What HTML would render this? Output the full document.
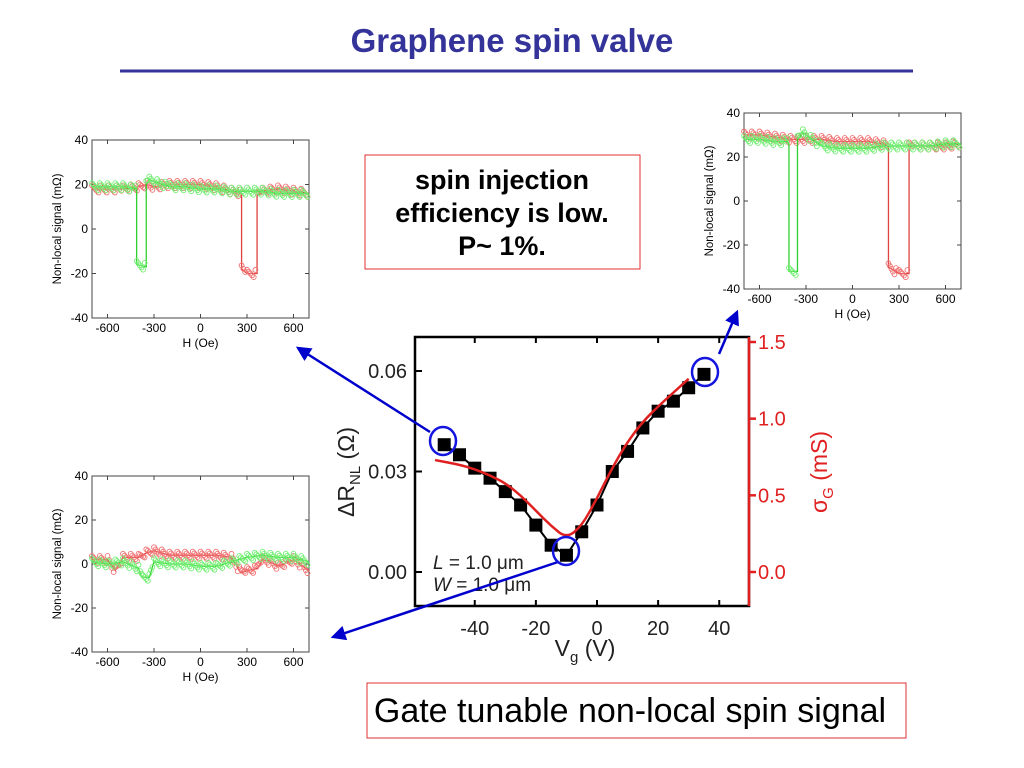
<!DOCTYPE html>
<html><head><meta charset="utf-8"><style>
body{margin:0;background:#fff;width:1024px;height:768px;overflow:hidden;font-family:"Liberation Sans",sans-serif;}
svg{position:absolute;left:0;top:0}
</style></head><body>
<svg width="1024" height="768" viewBox="0 0 1024 768" id="s">
<text x="512" y="52" text-anchor="middle" font-family="Liberation Sans" font-weight="bold" font-size="33" fill="#333399">Graphene spin valve</text>
<line x1="120" y1="71" x2="913" y2="71" stroke="#333399" stroke-width="3"/>
<g>
<rect x="365" y="155" width="275" height="114" fill="#fff" stroke="#e03030" stroke-width="1"/>
<text font-family="Liberation Sans" font-weight="bold" font-size="27" text-anchor="middle" fill="#000"><tspan x="502" y="189">spin injection</tspan><tspan x="502" y="222">efficiency is low.</tspan><tspan x="502" y="255">P~ 1%.</tspan></text>
</g>
<g>
<rect x="367" y="683" width="539" height="55" fill="#fff" stroke="#e03030" stroke-width="1"/>
<text x="630" y="722" text-anchor="middle" font-family="Liberation Sans" font-size="34" fill="#000">Gate tunable non-local spin signal</text>
</g>
<g id="panels"></g>
<g id="main"></g>
<g id="ann"></g>
</svg>
<script>
// ---- main chart data ----
const vg = [-50,-45,-40,-35,-30,-25,-20,-15,-10,-5,0,5,10,15,20,25,30,35];
const dR = [0.038,0.035,0.031,0.028,0.024,0.020,0.014,0.008,0.005,0.012,0.020,0.030,0.036,0.043,0.048,0.051,0.055,0.059];
const vgSigma = [-53,-45,-40,-35,-30,-25,-20,-15,-10,-5,0,5,10,15,20,25,30];
const sigma = [0.73,0.70,0.67,0.63,0.58,0.50,0.40,0.30,0.22,0.30,0.48,0.68,0.85,0.98,1.08,1.17,1.26];
const xTicks = [-40,-20,0,20,40];
const yTicks = [0.00,0.03,0.06];
const yTickLabels = ["0.00","0.03","0.06"];
const rTicks = [0.0,0.5,1.0,1.5];
const rTickLabels = ["0.0","0.5","1.0","1.5"];
// ---- loop panel data ----
const p1gH=[-700,-600,-500,-420,-412,-412,-350,-350,-330,-200,-100,0,100,200,300,400,500,600,700];
const p1gV=[19,19,19,18,18,-16,-17,20,22,19,19,18,18,17,17,17,16,16,16];
const p1rH=[-700,-500,-400,-350,-300,-200,-100,0,100,200,265,265,300,365,365,400,500,600,700];
const p1rV=[18,18,19,20,19,20,20,20,19,17,16,-18,-20,-20,15,17,18,17,16];
const p2gH=[-700,-600,-500,-420,-410,-410,-355,-355,-320,-200,-100,0,100,200,300,400,500,600,700];
const p2gV=[28,28,27,27,26,-32,-32,28,31,25,24,24,24,25,25,25,25,26,26];
const p2rH=[-700,-600,-500,-400,-300,-200,-100,0,100,200,232,232,300,365,365,400,500,600,700];
const p2rV=[30,30,29,28,28,28,27,27,27,26,25,-30,-33,-33,25,25,25,25,26];
const p3gH=[-700,-600,-500,-400,-380,-330,-300,-200,-100,0,100,200,300,400,500,600,700];
const p3gV=[1,0,1,-2,-6,-6,1,0,0,-1,-1,1,3,4,3,3,1];
const p3rH=[-700,-600,-550,-500,-400,-350,-300,-200,-100,0,100,200,260,300,370,400,450,500,600,700];
const p3rV=[2,2,-3,3,3,5,6,4,4,4,4,3,-4,-3,-2,2,1,-1,2,-3];
const hTicks=[-600,-300,0,300,600];
const sTicks=[-40,-20,0,20,40];

const NS="http://www.w3.org/2000/svg";
function mk(tag,attrs,parent){const e=document.createElementNS(NS,tag);for(const k in attrs)e.setAttribute(k,attrs[k]);parent.appendChild(e);return e;}

function panel(id,x0,x1,y0,y1,gH,gV,rH,rV){
  const g=mk('g',{},document.getElementById('panels'));
  
  
  const sx=h=>x0+(h+700)/1400*(x1-x0);
  const sy=v=>y1-(v+40)/80*(y1-y0);
  const fr=mk('rect',{x:x0,y:y0,width:x1-x0,height:y1-y0,fill:'none',stroke:'#444','stroke-width':1},g);
  
  
  hTicks.forEach(t=>{
    mk('line',{x1:sx(t),x2:sx(t),y1:y1,y2:y1-4,stroke:'#444'},g);
    mk('line',{x1:sx(t),x2:sx(t),y1:y0,y2:y0+4,stroke:'#444'},g);
    const tx=mk('text',{x:sx(t),y:y1+14,'text-anchor':'middle','font-size':12,fill:'#000'},g);
    tx.textContent=t;
    
    
  });
  sTicks.forEach(t=>{
    mk('line',{x1:x0,x2:x0+4,y1:sy(t),y2:sy(t),stroke:'#444'},g);
    mk('line',{x1:x1,x2:x1-4,y1:sy(t),y2:sy(t),stroke:'#444'},g);
    const tx=mk('text',{x:x0-4,y:sy(t)+4,'text-anchor':'end','font-size':12,fill:'#000'},g);
    tx.textContent=t;
    
    
  });
  const xl=mk('text',{x:(x0+x1)/2,y:y1+29,'text-anchor':'middle','font-size':12,fill:'#000'},g);
  xl.textContent='H (Oe)';
  
  
  const yl=mk('text',{x:0,y:0,'text-anchor':'middle','font-size':11.5,fill:'#000',transform:`translate(${x0-31},${(y0+y1)/2}) rotate(-90)`},g);
  yl.textContent='Non-local signal (mΩ)';
  
  
  [[rH,rV,'#e04040','#f07070','red-sweep'],[gH,gV,'#30d030','#70ee70','green-sweep']].forEach(([H,V,lc,mc,nm])=>{
    const s=mk('g',{},g);
    
    
    mk('polyline',{points:H.map((h,i)=>sx(h)+','+sy(V[i])).join(' '),fill:'none',stroke:lc,'stroke-width':1.3},s);
    for(let i=0;i<H.length-1;i++){
      const ax=sx(H[i]),ay=sy(V[i]),bx=sx(H[i+1]),by=sy(V[i+1]);
      if(Math.abs(bx-ax)<1)continue;
      const n=Math.max(1,Math.round(Math.abs(bx-ax)/1.6));
      for(let k=0;k<n;k++){
        const f=k/n;const off=((k%5)-2)*1.8;
        mk('circle',{cx:ax+(bx-ax)*f,cy:ay+(by-ay)*f+off,r:2.4,fill:'none',stroke:mc,'stroke-width':0.9},s);
      }
    }
  });
}
panel('loop-panel-top-left',92,309,140,318,p1gH,p1gV,p1rH,p1rV);
panel('loop-panel-top-right',744,961,113,289,p2gH,p2gV,p2rH,p2rV);
panel('loop-panel-bottom-left',92,309,476,652,p3gH,p3gV,p3rH,p3rV);

// main chart
(function(){
  const m=document.getElementById('main');
  
  
  const L=415,R=749,T=337,B=606;
  const sx=v=>597+v*3.056;
  const sy=d=>572-d/0.06*201;
  const sr=s=>572-s/1.5*230;
  mk('rect',{x:L,y:T,width:R-L,height:B-T,fill:'none',stroke:'#000','stroke-width':2.5},m);
  mk('line',{x1:R,x2:R,y1:T,y2:B,stroke:'#e02020','stroke-width':2.5},m);
  xTicks.forEach(t=>{
    mk('line',{x1:sx(t),x2:sx(t),y1:B,y2:B-6,stroke:'#000','stroke-width':2},m);
    mk('line',{x1:sx(t),x2:sx(t),y1:T,y2:T+6,stroke:'#000','stroke-width':2},m);
    const tx=mk('text',{x:sx(t),y:B+29,'text-anchor':'middle','font-size':20,fill:'#222'},m);
    tx.textContent=t;
    
    
  });
  yTicks.forEach((t,i)=>{
    mk('line',{x1:L,x2:L+7,y1:sy(t),y2:sy(t),stroke:'#000','stroke-width':2},m);
    const tx=mk('text',{x:L-8,y:sy(t)+7,'text-anchor':'end','font-size':20,fill:'#222'},m);
    tx.textContent=yTickLabels[i];
    
    
  });
  rTicks.forEach((t,i)=>{
    mk('line',{x1:R,x2:R+7,y1:sr(t),y2:sr(t),stroke:'#e02020','stroke-width':2.5},m);
    const tx=mk('text',{x:R+9,y:sr(t)+7,'font-size':20,fill:'#e02020'},m);
    tx.textContent=rTickLabels[i];
    
    
  });
  const line=mk('polyline',{points:vg.map((v,i)=>sx(v)+','+sy(dR[i])).join(' '),fill:'none',stroke:'#000','stroke-width':2},m);
  
  
  vg.forEach((v,i)=>{
    const r=mk('rect',{x:sx(v)-6.5,y:sy(dR[i])-6.5,width:13,height:13,fill:'#000'},m);
    
    
  });
  let d='';vgSigma.forEach((v,i)=>{const px=sx(v),py=sr(sigma[i]);if(i==0)d+=`M${px},${py}`;else{const p0=sx(vgSigma[i-1]),q0=sr(sigma[i-1]);d+=` Q${p0},${q0} ${(p0+px)/2},${(q0+py)/2}`;}});
  d+=` L${sx(vgSigma[vgSigma.length-1])},${sr(sigma[sigma.length-1])}`;
  const rc=mk('path',{d:d,fill:'none',stroke:'#e02020','stroke-width':2.5},m);
  
  
  const xt=mk('text',{x:585,y:656,'text-anchor':'middle','font-size':23,fill:'#222'},m);
  xt.innerHTML='V<tspan font-size="15" dy="6">g</tspan><tspan dy="-6"> (V)</tspan>';
  
  
  const yt=mk('text',{x:0,y:0,'text-anchor':'middle','font-size':23,fill:'#222',transform:'translate(354,472) rotate(-90)'},m);
  yt.innerHTML='ΔR<tspan font-size="15" dy="6">NL</tspan><tspan dy="-6"> (Ω)</tspan>';
  
  
  const rt=mk('text',{x:0,y:0,'text-anchor':'middle','font-size':23,fill:'#e02020',transform:'translate(827,472) rotate(-90)'},m);
  rt.innerHTML='σ<tspan font-size="15" dy="6">G</tspan><tspan dy="-6"> (mS)</tspan>';
  
  
  const lt=mk('text',{x:433,y:569,'font-size':19,fill:'#222'},m);
  lt.innerHTML='<tspan font-style="italic">L</tspan> = 1.0 μm';
  
  
  const wt=mk('text',{x:433,y:591,'font-size':19,fill:'#222'},m);
  wt.innerHTML='<tspan font-style="italic">W</tspan> = 1.0 μm';
  
  
})();

// annotations
(function(){
  const a=document.getElementById('ann');
  const defs=mk('defs',{},a);
  const mkr=mk('marker',{id:'ah',markerWidth:6,markerHeight:6,refX:5,refY:3,orient:'auto',markerUnits:'strokeWidth'},defs);
  mk('path',{d:'M0,0 L6,3 L0,6 z',fill:'#0000cc'},mkr);
  [[430,432,298,348,'arrow-to-top-left'],[558,562,333,637,'arrow-to-bottom-left'],[719,354,737,312,'arrow-to-top-right']].forEach(([x1,y1,x2,y2,n])=>{
    const l=mk('line',{x1,y1,x2,y2,stroke:'#0000cc','stroke-width':2.5,'marker-end':'url(#ah)'},a);
    
    
  });
  [[443,441],[566,551],[705,372]].forEach(([cx,cy])=>{
    const c=mk('ellipse',{cx,cy,rx:13,ry:14,fill:'none',stroke:'#1515e0','stroke-width':2.5},a);
    
    
  });
})();
</script>
</body></html>
